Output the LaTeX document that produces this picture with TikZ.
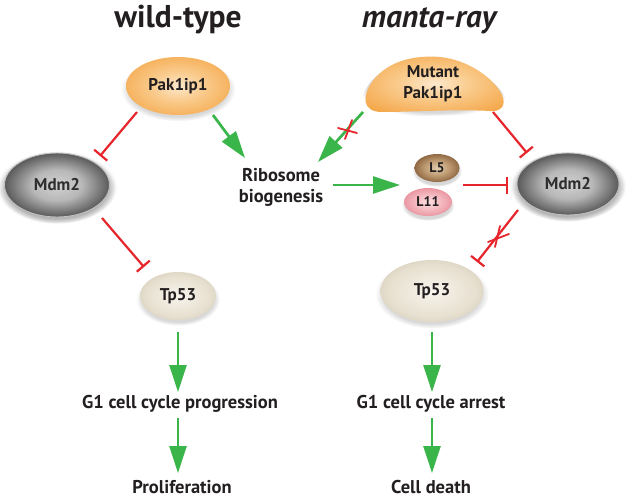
\documentclass[tikz,border=0pt]{standalone}
\usepackage{fontspec}
\setmainfont{PT Sans}
\usetikzlibrary{arrows.meta,shapes.geometric,shadows}
\definecolor{actgreen}{RGB}{58,181,74}
\definecolor{inhred}{RGB}{230,38,44}
\definecolor{txt}{RGB}{35,31,32}
\pgfdeclareradialshading{orangesh}{\pgfpoint{0bp}{0bp}}{rgb(0bp)=(0.99,0.91,0.80);rgb(12bp)=(0.98,0.80,0.56);rgb(36bp)=(0.95,0.62,0.22);rgb(50bp)=(0.93,0.55,0.14)}
\pgfdeclareradialshading{blacksh}{\pgfpoint{0bp}{0bp}}{rgb(0bp)=(0.82,0.82,0.82);rgb(12bp)=(0.72,0.72,0.72);rgb(24bp)=(0.38,0.38,0.38);rgb(34bp)=(0.09,0.09,0.09);rgb(44bp)=(0.05,0.05,0.05);rgb(50bp)=(0.25,0.25,0.25)}
\pgfdeclareradialshading{tansh}{\pgfpoint{0bp}{0bp}}{rgb(0bp)=(0.97,0.96,0.93);rgb(20bp)=(0.91,0.88,0.82);rgb(40bp)=(0.79,0.75,0.66);rgb(50bp)=(0.73,0.69,0.60)}
\pgfdeclareradialshading{brownsh}{\pgfpoint{0bp}{0bp}}{rgb(0bp)=(0.88,0.80,0.68);rgb(14bp)=(0.74,0.60,0.44);rgb(34bp)=(0.42,0.26,0.12);rgb(50bp)=(0.33,0.20,0.08)}
\pgfdeclareradialshading{pinksh}{\pgfpoint{0bp}{0bp}}{rgb(0bp)=(0.99,0.88,0.89);rgb(16bp)=(0.95,0.70,0.73);rgb(38bp)=(0.87,0.44,0.50);rgb(50bp)=(0.82,0.36,0.43)}
\begin{document}
\begin{tikzpicture}[x=1pt,y=-1pt,
  blob/.style={ellipse, inner sep=0pt, text=txt,
    font=\fontsize{17}{18}\selectfont\bfseries,
    circular drop shadow={shadow xshift=0pt,shadow yshift=-3pt,shadow scale=1.1,opacity=0.3}},
  mdm/.style={blob, shading=blacksh, draw=black!25, line width=0.9pt, text=black!82,
    circular drop shadow={shadow xshift=0pt,shadow yshift=-2pt,shadow scale=1.14,opacity=0.4}},
  lbl/.style={text=txt, font=\fontsize{18.5}{21}\selectfont\bfseries, align=center, inner sep=0pt},
  ttl/.style={text=txt, font=\fontsize{31.5}{34}\selectfont\bfseries, inner sep=0pt, anchor=base},
  act/.style={draw=actgreen, line width=2.7pt, -{Triangle[length=27pt,width=17pt]}},
  inh/.style={draw=inhred, line width=2.2pt, -{Bar[width=17pt]}},
  xmark/.style={draw=inhred, line width=1.8pt, line cap=round}]
\useasboundingbox (0,0) rectangle (630,498);
\fill[white] (0,0) rectangle (630,498);

% titles
\node[ttl] (wt) at (178,27) {wild-type};
\node[ttl] (mr) at (429,27) {\itshape manta-ray};

% wild-type side
\node[blob, shading=orangesh, minimum width=104pt, minimum height=58pt] (pak) at (178,86) {Pak1ip1};
\node[mdm, minimum width=105pt, minimum height=64pt] (mdmL) at (57,185) {Mdm2};
\node[blob, shading=tansh, minimum width=76pt, minimum height=48pt] (tpL) at (178,296) {Tp53};
\node[lbl] (g1L) at (180,404) {G1 cell cycle progression};
\node[lbl] (prol) at (182,487) {Proliferation};

% centre
\node[lbl] (rib) at (281,187) {Ribosome\\biogenesis};

% manta-ray side
\shade[shading=orangesh, circular drop shadow={shadow xshift=0pt,shadow yshift=-3pt,shadow scale=1.06,opacity=0.3}]
  (382,112) .. controls (362,112) and (362,96) .. (372,82)
  .. controls (388,60) and (416,55) .. (440,57)
  .. controls (470,60) and (495,80) .. (502,95)
  .. controls (507,106) and (500,112) .. (490,111)
  .. controls (455,109) and (415,112) .. (382,112) -- cycle;
\node[lbl, font=\fontsize{17}{21}\selectfont\bfseries] (mut) at (433,84) {Mutant\\Pak1ip1};
\node[blob, shading=brownsh, minimum width=45pt, minimum height=28pt, font=\fontsize{14}{16}\selectfont\bfseries] (l5) at (437,168) {L5};
\node[blob, shading=pinksh, minimum width=48pt, minimum height=28pt, font=\fontsize{14}{16}\selectfont\bfseries] (l11) at (428,202) {L11};
\node[mdm, minimum width=102pt, minimum height=62pt] (mdmR) at (568,184) {Mdm2};
\node[blob, shading=tansh, minimum width=103pt, minimum height=62pt] (tpR) at (432,291) {Tp53};
\node[lbl] (g1R) at (431,404) {G1 cell cycle arrest};
\node[lbl] (death) at (431,487) {Cell death};

% connectors, wild-type
\draw[act] ([shift={(35,29)}]pak.center) -- ([shift={(-36,-29)}]rib.center);
\draw[inh] ([shift={(-41,26)}]pak.center) -- ([shift={(43,-29)}]mdmL.center);
\draw[inh] ([shift={(45,33)}]mdmL.center) -- ([shift={(-34,-29)}]tpL.center);
\draw[act] ([shift={(0,36)}]tpL.center) -- ([shift={(-2,-12)}]g1L.center);
\draw[act] ([shift={(-2,14)}]g1L.center) -- ([shift={(-4,-14)}]prol.center);

% connectors, manta-ray
\draw[act] ([shift={(-70,28)}]mut.center) -- ([shift={(37,-25)}]rib.center);
\coordinate (x1) at (348,130);
\draw[xmark] ([shift={(-10,-2)}]x1) -- ([shift={(9,3)}]x1);
\draw[xmark] ([shift={(4,-10)}]x1) -- ([shift={(-3,9)}]x1);
\draw[inh] ([shift={(60,28)}]mut.center) -- ([shift={(-41,-31)}]mdmR.center);
\draw[act] ([shift={(52,-2)}]rib.center) -- ([shift={(-37,17)}]l5.center);
\draw[inh] ([shift={(26,17)}]l5.center) -- ([shift={(-60,1)}]mdmR.center);
\draw[inh] ([shift={(-50,26)}]mdmR.center) -- ([shift={(45,-29)}]tpR.center);
\coordinate (x2) at (498,237);
\draw[xmark] ([shift={(-10,5)}]x2) -- ([shift={(11,-3)}]x2);
\draw[xmark] ([shift={(2,-11)}]x2) -- ([shift={(-3,10)}]x2);
\draw[act] ([shift={(0,41)}]tpR.center) -- ([shift={(1,-12)}]g1R.center);
\draw[act] ([shift={(1,14)}]g1R.center) -- ([shift={(1,-14)}]death.center);
\end{tikzpicture}
\end{document}
